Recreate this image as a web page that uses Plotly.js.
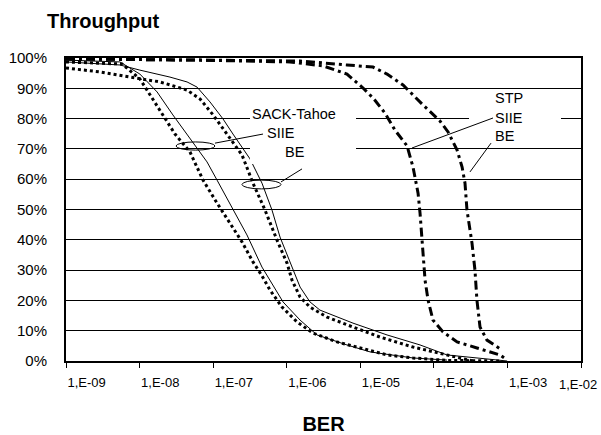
<!DOCTYPE html>
<html>
<head>
<meta charset="utf-8">
<script src="https://cdn.plot.ly/plotly-3.0.1.min.js"></script>
<style>html,body{margin:0;padding:0;background:#fff;}#chart{width:601px;height:435px;}</style>
</head>
<body>
<div id="chart"></div>
<script>
// SACK-Tahoe, SIIE (dotted) and model (thin solid)
const sackSiieDotBer = [1.0e-9, 2.9e-9, 5.8e-9, 1.01e-8, 1.39e-8, 2.08e-8, 3.03e-8, 4.84e-8, 7.28e-8, 1.13e-7, 1.59e-7, 2.47e-7, 3.48e-7, 4.61e-7, 5.93e-7, 8.63e-7, 1.38e-6, 2.28e-6, 4.83e-6, 1.09e-5, 2.31e-5, 5.21e-5, 1.51e-4, 7.9e-4];
const sackSiieDotThr = [98.7, 98.3, 98.0, 93.1, 87.8, 81.2, 74.9, 69.0, 59.7, 52.1, 46.5, 39.3, 32.7, 28.1, 23.4, 17.8, 12.9, 9.2, 6.3, 4.0, 2.0, 1.0, 0.2, 0.0];
const sackSiieSolidBer = [1.0e-9, 5.4e-9, 1.01e-8, 1.73e-8, 2.84e-8, 4.84e-8, 8.26e-8, 1.13e-7, 1.86e-7, 2.88e-7, 4.61e-7, 5.93e-7, 8.91e-7, 1.52e-6, 2.58e-6, 6.59e-6, 1.36e-5, 5.21e-5, 1.51e-4];
const sackSiieSolidThr = [99.3, 98.7, 94.7, 88.8, 81.2, 73.3, 65.7, 59.7, 49.8, 41.6, 31.0, 26.7, 19.5, 13.5, 8.6, 5.3, 3.0, 1.0, 0.3];
// SACK-Tahoe, BE
const sackBeDotBer = [1.0e-9, 2.9e-9, 7.4e-9, 1.9e-8, 4.42e-8, 6.62e-8, 1.0e-7, 1.36e-7, 1.86e-7, 2.47e-7, 3.48e-7, 5.07e-7, 7.38e-7, 1.01e-6, 1.18e-6, 1.52e-6, 2.07e-6, 3.53e-6, 7.96e-6, 1.85e-5, 5.21e-5, 1.51e-4, 3.4e-4];
const sackBeDotThr = [96.7, 95.4, 93.7, 92.1, 89.4, 86.5, 81.2, 76.6, 72.3, 68.0, 58.7, 49.8, 39.9, 32.3, 26.7, 21.1, 17.8, 14.5, 11.2, 7.9, 4.6, 2.0, 0.0];
const sackBeSolidBer = [1.0e-9, 5.4e-9, 1.01e-8, 2.59e-8, 4.42e-8, 6.04e-8, 9.06e-8, 1.36e-7, 1.86e-7, 2.55e-7, 3.17e-7, 4.61e-7, 6.31e-7, 8.11e-7, 1.18e-6, 1.52e-6, 2.07e-6, 2.83e-6, 7.96e-6, 2.31e-5, 6.49e-5, 1.51e-4, 9.9e-4];
const sackBeSolidThr = [98.7, 97.7, 96.0, 93.7, 92.1, 90.4, 85.5, 79.9, 74.9, 70.0, 66.7, 58.7, 49.8, 40.9, 31.0, 24.4, 19.5, 16.8, 12.5, 8.6, 5.3, 2.0, 0.0];
// STP, SIIE and BE (dash-dot)
const stpSiieBer = [1.0e-9, 6.6e-8, 1.11e-6, 3.11e-6, 6.59e-6, 1.09e-5, 1.53e-5, 2.17e-5, 2.96e-5, 4.32e-5, 5.21e-5, 6.10e-5, 6.49e-5, 6.90e-5, 7.13e-5, 7.59e-5, 8.34e-5, 9.73e-5, 1.33e-4, 2.07e-4, 3.85e-4, 7.93e-4, 9.9e-4];
const stpSiieThr = [99.7, 99.3, 98.7, 97.4, 94.7, 90.1, 86.5, 81.8, 76.2, 71.0, 64.0, 55.4, 48.8, 39.9, 33.3, 26.7, 20.1, 13.5, 9.6, 6.3, 4.3, 2.0, 0.3];
const stpBeBer = [1.0e-9, 1.52e-6, 6.59e-6, 1.49e-5, 2.31e-5, 3.81e-5, 7.13e-5, 1.21e-4, 1.56e-4, 2.07e-4, 2.42e-4, 2.65e-4, 2.82e-4, 3.30e-4, 3.62e-4, 3.85e-4, 4.24e-4, 5.27e-4, 8.43e-4];
const stpBeThr = [99.7, 99.0, 97.7, 97.0, 94.7, 91.1, 84.5, 79.2, 75.6, 69.6, 64.0, 58.7, 49.8, 38.9, 30.0, 20.1, 11.2, 6.9, 3.6];

const xTickValues = [1e-9, 1e-8, 1e-7, 1e-6, 1e-5, 1e-4, 1e-3, 1e-2];
const xTickLabels = ['1,E-09', '1,E-08', '1,E-07', '1,E-06', '1,E-05', '1,E-04', '1,E-03', '1,E-02'];
const yTickValues = [0, 10, 20, 30, 40, 50, 60, 70, 80, 90, 100];
const yTickLabels = ['0%', '10%', '20%', '30%', '40%', '50%', '60%', '70%', '80%', '90%', '100%'];

const FONT = '"Liberation Sans", Arial, sans-serif';
const dotted = {color: '#000', width: 3, dash: 'dot'};
const thin = {color: '#000', width: 1};
const dashdot = {color: '#000', width: 3, dash: '9px,4px,3px,4px'};

const traces = [
  {name: 'SACK-Tahoe SIIE', x: sackSiieDotBer, y: sackSiieDotThr, line: dotted},
  {name: 'SACK-Tahoe SIIE (model)', x: sackSiieSolidBer, y: sackSiieSolidThr, line: thin},
  {name: 'SACK-Tahoe BE', x: sackBeDotBer, y: sackBeDotThr, line: dotted},
  {name: 'SACK-Tahoe BE (model)', x: sackBeSolidBer, y: sackBeSolidThr, line: thin},
  {name: 'STP SIIE', x: stpSiieBer, y: stpSiieThr, line: dashdot},
  {name: 'STP BE', x: stpBeBer, y: stpBeThr, line: dashdot}
].map(t => Object.assign({type: 'scatter', mode: 'lines', showlegend: false, hoverinfo: 'skip'}, t));

// decoration positions given as log10(BER); shapes on a log axis take BER values
const P = v => Math.pow(10, v);
const ink = {color: '#000', width: 1};
const shapes = [
  // white label boxes (as in the original, they mask the gridlines)
  {type: 'rect', xref: 'x', yref: 'y', x0: P(-6.499), x1: P(-5.058), y0: 65.0, y1: 84.8, fillcolor: '#fff', line: {width: 0}, layer: 'above'},
  {type: 'rect', xref: 'x', yref: 'y', x0: P(-3.522), x1: P(-2.272), y0: 71.3, y1: 88.8, fillcolor: '#fff', line: {width: 0}, layer: 'above'},
  // ellipses
  {type: 'circle', xref: 'x', yref: 'y', x0: P(-7.505), x1: P(-6.975), y0: 69.6, y1: 72.3, line: ink, layer: 'above'},
  {type: 'circle', xref: 'x', yref: 'y', x0: P(-6.608), x1: P(-6.078), y0: 56.8, y1: 59.7, line: ink, layer: 'above'},
  // leader lines
  {type: 'line', xref: 'x', yref: 'y', x0: P(-6.975), y0: 71.9, x1: P(-6.322), y1: 74.9, line: ink, layer: 'above'},
  {type: 'line', xref: 'x', yref: 'y', x0: P(-6.078), y0: 59.1, x1: P(-5.792), y1: 63.4, line: ink, layer: 'above'},
  {type: 'line', xref: 'x', yref: 'y', x0: P(-4.297), y0: 70.3, x1: P(-3.196), y1: 80.2, line: ink, layer: 'above'},
  {type: 'line', xref: 'x', yref: 'y', x0: P(-3.509), y0: 62.4, x1: P(-3.223), y1: 71.9, line: ink, layer: 'above'}
];

const txt = (text, x, y) => ({text, x, y, xref: 'x', yref: 'y', xanchor: 'left', yanchor: 'middle', showarrow: false, font: {family: FONT, size: 14.5, color: '#000'}});
const annotations = [
  txt('SACK-Tahoe', -6.499, 81.5),
  txt('SIIE', -6.295, 75.2),
  txt('BE', -6.050, 69.0),
  txt('STP', -3.196, 86.8),
  txt('SIIE', -3.196, 80.2),
  txt('BE', -3.196, 74.3),
  {text: xTickLabels[xTickLabels.length - 1], x: Math.log10(xTickValues[xTickValues.length - 1]), y: -0.076, xref: 'x', yref: 'paper', xanchor: 'center', xshift: -3, yanchor: 'middle', showarrow: false, font: {family: FONT, size: 13, color: '#000'}}
];

const layout = {
  width: 601, height: 435,
  margin: {l: 66, r: 20, t: 58, b: 74, pad: 0},
  paper_bgcolor: '#fff', plot_bgcolor: '#fff',
  font: {family: FONT, color: '#000'},
  title: {text: 'Throughput', font: {family: FONT, size: 20, weight: 700, color: '#000'}, xref: 'container', yref: 'container', x: 47 / 601, xanchor: 'left', y: 1 - 21 / 435, yanchor: 'middle'},
  xaxis: {
    type: 'log', range: [-9, -2], autorange: false,
    tickvals: xTickValues,
    ticktext: xTickLabels.map((t, i) => i === xTickLabels.length - 1 ? '' : t),
    ticks: 'outside', ticklen: 5, tickwidth: 1, tickcolor: '#000',
    ticklabelposition: 'outside right', ticklabelstandoff: 8,
    tickfont: {family: FONT, size: 13, color: '#000'},
    showgrid: false, zeroline: false,
    showline: true, linecolor: '#000', linewidth: 2, mirror: true,
    title: {text: 'BER', font: {family: FONT, size: 20, weight: 700, color: '#000'}, standoff: 29},
    automargin: false
  },
  yaxis: {
    range: [0, 100], autorange: false,
    tickvals: yTickValues, ticktext: yTickLabels,
    ticks: '', ticklabelstandoff: 14,
    tickfont: {family: FONT, size: 15, color: '#000'},
    showgrid: true, gridcolor: '#000', gridwidth: 1, zeroline: false,
    showline: true, linecolor: '#000', linewidth: 2, mirror: true,
    automargin: false
  },
  shapes, annotations,
  showlegend: false
};

Plotly.newPlot('chart', traces, layout, {displayModeBar: false, staticPlot: true});
</script>
</body>
</html>
